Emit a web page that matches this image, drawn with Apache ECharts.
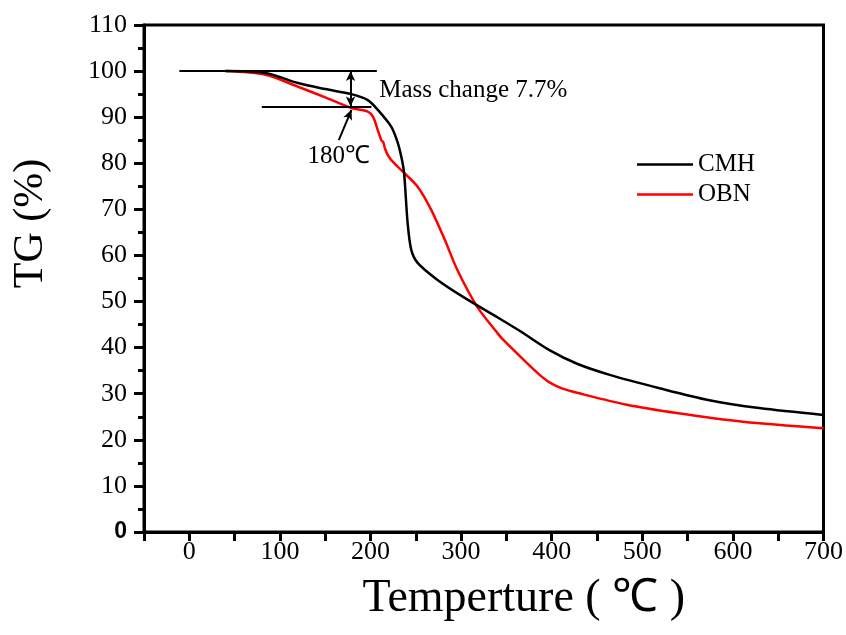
<!DOCTYPE html>
<html>
<head>
<meta charset="utf-8">
<script src="https://cdn.jsdelivr.net/npm/echarts@6/dist/echarts.min.js"></script>
<style>html,body{margin:0;padding:0;background:#fff}#c{width:846px;height:635px}</style>
</head>
<body>
<div id="c"></div>
<script>
// ---- data ----
const cmhTemp = [40, 84, 120, 150, 179, 197, 208, 223, 230, 234, 237, 241, 245, 252, 274, 304, 340, 365, 398, 428, 464, 519, 574, 629, 700];
const cmhTG   = [100, 99.6, 97.4, 96.1, 95.0, 93.7, 91.6, 87.9, 84.5, 81.4, 78, 67, 61.2, 58.4, 54.7, 50.8, 46.6, 43.6, 39.4, 36.5, 34.1, 31.2, 28.6, 26.9, 25.4];
const obnTemp = [40, 84, 120, 150, 179, 197, 203, 208, 212, 214, 216, 219, 223, 234, 252, 267, 282, 296, 318, 340, 345, 373, 386, 398, 412, 428, 483, 538, 611, 700];
const obnTG   = [100, 99.2, 96.6, 94.3, 92.0, 91.2, 90.0, 87.2, 85.0, 84.6, 83.2, 81.8, 80.7, 78.5, 74.9, 69.9, 63.4, 56.8, 48.8, 43.2, 42.0, 36.6, 34.2, 32.4, 31.1, 30.2, 27.6, 25.8, 23.9, 22.5];
const seriesNames = ['CMH', 'OBN'];
const xTicks = [0, 100, 200, 300, 400, 500, 600, 700];
// annotation (data-space)
const upperLine = [[-11, 100], [207, 100]];
const lowerLine = [[80, 92.3], [201, 92.3]];
const massArrow = [[178, 92.3], [178, 100]];
const tempArrow = [[165, 85], [179, 91.6]];
const massText = { at: [209, 95.9], text: 'Mass change 7.7%' };
const tempText = { at: [165, 81.4], text: '180\u2103' };

const SERIF = "'Liberation Serif','Times New Roman',serif";
const pair = (xs, ys) => xs.map((x, i) => [x, ys[i]]);

const chart = echarts.init(document.getElementById('c'), null, { renderer: 'canvas' });
const lineSt = { color: '#000', width: 2, type: 'solid' };
const option = {
  animation: false,
  backgroundColor: '#fff',
  grid: { left: 144, right: 16, top: 25, bottom: 103, show: true, borderColor: '#000', borderWidth: 3, backgroundColor: 'transparent' },
  legend: {
    data: seriesNames,
    orient: 'vertical',
    left: 637, top: 152, padding: 0,
    icon: 'rect', itemWidth: 56, itemHeight: 2.5, itemGap: 5,
    textStyle: { fontFamily: SERIF, fontSize: 25, color: '#000' }
  },
  xAxis: {
    type: 'value', min: -50, max: 700, interval: 50,
    name: 'Temperture ( \u2103 )', nameLocation: 'middle', nameGap: 44,
    nameTextStyle: { fontFamily: SERIF, fontSize: 46, color: '#000', padding: [0, 0, 0, 80] },
    axisLine: { onZero: false, lineStyle: { color: '#000', width: 3 } },
    axisTick: { show: true, inside: false, length: 9, lineStyle: { color: '#000', width: 3 } },
    axisLabel: {
      margin: 7, fontFamily: SERIF, fontSize: 26, color: '#000',
      formatter: v => (xTicks.indexOf(v) >= 0 ? String(v) : '')
    },
    splitLine: { show: false }
  },
  yAxis: {
    type: 'value', min: 0, max: 110, interval: 10,
    name: 'TG (%)', nameLocation: 'middle', nameGap: 92, nameRotate: 90,
    nameTextStyle: { fontFamily: SERIF, fontSize: 42, color: '#000', padding: [0, 0, 0, 110] },
    axisLine: { onZero: false, lineStyle: { color: '#000', width: 3 } },
    axisTick: { show: true, inside: false, length: 10, lineStyle: { color: '#000', width: 3 } },
    minorTick: { show: true, splitNumber: 2, length: 6, lineStyle: { color: '#000', width: 3 } },
    axisLabel: {
      margin: 17, fontFamily: SERIF, fontSize: 26, color: '#000',
      formatter: v => (v === 0 ? '{z|0}' : String(v)),
      rich: { z: { fontFamily: "'Liberation Sans',Arial,sans-serif", fontWeight: 'bold', fontSize: 23, color: '#000' } }
    },
    splitLine: { show: false }
  },
  series: [
    {
      name: seriesNames[0], type: 'line', data: pair(cmhTemp, cmhTG),
      showSymbol: false, smooth: 0.3, color: '#000',
      lineStyle: { color: '#000', width: 2.5 }, z: 3,
      markLine: {
        silent: true, animation: false, label: { show: false }, emphasis: { disabled: true },
        lineStyle: lineSt,
        data: [
          [{ coord: upperLine[0], symbol: 'none' }, { coord: upperLine[1], symbol: 'none' }],
          [{ coord: lowerLine[0], symbol: 'none' }, { coord: lowerLine[1], symbol: 'none' }],
          [{ coord: massArrow[0], symbol: 'arrow', symbolSize: [7, 10] }, { coord: massArrow[1], symbol: 'arrow', symbolSize: [7, 10] }],
          [{ coord: tempArrow[0], symbol: 'none' }, { coord: tempArrow[1], symbol: 'arrow', symbolSize: [7, 10] }]
        ]
      },
      markPoint: {
        silent: true, animation: false,
        data: [
          { coord: massText.at, symbol: 'rect', symbolSize: 1, itemStyle: { color: 'rgba(0,0,0,0)' },
            label: { show: true, position: 'right', distance: 0, formatter: massText.text, fontFamily: SERIF, fontSize: 25, color: '#000' } },
          { coord: tempText.at, symbol: 'rect', symbolSize: 1, itemStyle: { color: 'rgba(0,0,0,0)' },
            label: { show: true, position: 'inside', formatter: tempText.text, fontFamily: SERIF, fontSize: 25, color: '#000' } }
        ]
      }
    },
    {
      name: seriesNames[1], type: 'line', data: pair(obnTemp, obnTG),
      showSymbol: false, smooth: 0.3, color: '#ff0000',
      lineStyle: { color: '#ff0000', width: 2.5 }, z: 2
    }
  ]
};
chart.setOption(option);
</script>
</body>
</html>
